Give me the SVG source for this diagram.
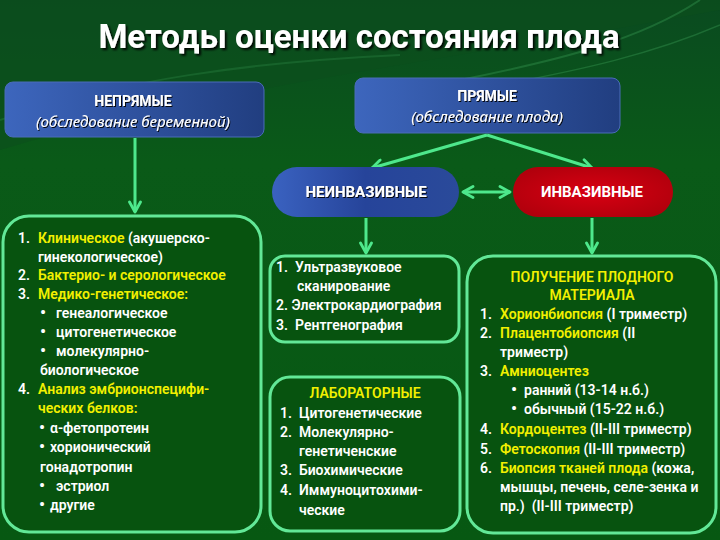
<svg xmlns="http://www.w3.org/2000/svg" width="720" height="540" viewBox="0 0 720 540">
<defs>
<linearGradient id="bg" x1="0" y1="0" x2="0" y2="1">
<stop offset="0" stop-color="#0a4a20"/>
<stop offset="0.3" stop-color="#0a5a18"/>
<stop offset="1" stop-color="#075812"/>
</linearGradient>
<linearGradient id="blue" x1="0" y1="0" x2="1" y2="0">
<stop offset="0" stop-color="#3d66bd"/>
<stop offset="1" stop-color="#213e80"/>
</linearGradient>
<linearGradient id="blue2" x1="0" y1="0" x2="1" y2="0">
<stop offset="0" stop-color="#3a62c0"/>
<stop offset="0.5" stop-color="#26449a"/>
<stop offset="1" stop-color="#2a4a9a"/>
</linearGradient>
<radialGradient id="red" cx="0.5" cy="0.5" r="0.6">
<stop offset="0" stop-color="#d80012"/>
<stop offset="1" stop-color="#b0000c"/>
</radialGradient>
<filter id="sh" x="-10%" y="-30%" width="120%" height="160%">
<feDropShadow dx="2" dy="2" stdDeviation="0.8" flood-color="#000" flood-opacity="0.9"/>
</filter>
<filter id="sh2" x="-10%" y="-30%" width="120%" height="160%">
<feDropShadow dx="1" dy="1" stdDeviation="0.5" flood-color="#000" flood-opacity="0.9"/>
</filter>
<marker id="ah" viewBox="0 0 14 14" refX="12" refY="7" markerWidth="14" markerHeight="14" markerUnits="userSpaceOnUse" orient="auto-start-reverse">
<polyline points="2,1.5 12,7 2,12.5" fill="none" stroke="#4ee88c" stroke-width="2.8" stroke-linecap="round" stroke-linejoin="round"/>
</marker>
<style>
.t{font-family:Roboto,"Noto Sans","Liberation Sans",sans-serif;font-size:14px;fill:#ffffff;font-weight:600;white-space:pre}
.y{fill:#f2f000}
.c{text-anchor:middle}
.b{font-size:17px}
.hd{font-family:Roboto,"Noto Sans","Liberation Sans",sans-serif;fill:#ffffff;font-weight:bold;text-anchor:middle}
.it{font-family:"Noto Sans",Roboto,"Liberation Sans",sans-serif;fill:#ffffff;font-style:italic;text-anchor:middle;font-size:15px}
.box{fill:#07530f;stroke:#62e897;stroke-width:3}
.con{stroke:#4ee88c;stroke-width:3;fill:none}
</style>
</defs>
<rect width="720" height="540" fill="url(#bg)"/>
<path d="M0,150 C200,90 450,60 720,10 L720,0 L0,0 Z" fill="#0b4f1c" opacity="0.6"/>
<path d="M700,0 C640,40 560,60 460,80" stroke="#2e8a48" stroke-width="2" fill="none" opacity="0.5"/>
<path d="M720,25 C650,55 580,70 500,85" stroke="#3a9a55" stroke-width="1.5" fill="none" opacity="0.4"/>
<path d="M0,120 C120,80 250,62 400,55" stroke="#2e8a48" stroke-width="2" fill="none" opacity="0.35"/>

<text x="359" y="48" class="hd" font-size="33" filter="url(#sh)">Методы оценки состояния плода</text>

<g id="connectors">
<line class="con" x1="135" y1="138" x2="135" y2="212" marker-end="url(#ah)"/>
<line class="con" x1="487" y1="135" x2="372" y2="168" marker-end="url(#ah)"/>
<line class="con" x1="487" y1="135" x2="592" y2="168" marker-end="url(#ah)"/>
<line class="con" x1="463" y1="192" x2="510" y2="192" marker-start="url(#ah)" marker-end="url(#ah)"/>
<line class="con" x1="366" y1="218" x2="366" y2="253" marker-end="url(#ah)"/>
<line class="con" x1="592" y1="218" x2="592" y2="253" marker-end="url(#ah)"/>
</g>

<g id="indirect">
<rect x="5" y="82" width="259" height="55" rx="8" fill="url(#blue)" stroke="#4a6cb8" stroke-width="1"/>
<text x="133" y="106" class="hd" font-size="14" filter="url(#sh2)">НЕПРЯМЫЕ</text>
<text x="133" y="127" class="it" filter="url(#sh2)">(обследование беременной)</text>
</g>

<g id="direct">
<rect x="355" y="78" width="265" height="55" rx="8" fill="url(#blue)" stroke="#4a6cb8" stroke-width="1"/>
<text x="487" y="101" class="hd" font-size="14" filter="url(#sh2)">ПРЯМЫЕ</text>
<text x="487" y="122" class="it" filter="url(#sh2)">(обследование плода)</text>
</g>

<g id="noninvasive">
<rect x="272" y="167" width="187" height="50" rx="25" fill="url(#blue2)"/>
<text x="366" y="197" class="hd" font-size="15" filter="url(#sh2)">НЕИНВАЗИВНЫЕ</text>
</g>

<g id="invasive">
<rect x="513" y="167" width="160" height="50" rx="25" fill="url(#red)"/>
<text x="592" y="197" class="hd" font-size="15" font-weight="600">ИНВАЗИВНЫЕ</text>
</g>

<g id="indirect-list">
<rect class="box" x="3" y="216" width="258" height="316" rx="26"/>
<text class="t" y="243"><tspan x="18">1.</tspan><tspan x="38" class="y">Клиническое</tspan> (акушерско-</text>
<text class="t" x="38" y="262">гинекологическое)</text>
<text class="t" y="280"><tspan x="18">2.</tspan><tspan x="38" class="y">Бактерио- и серологическое</tspan></text>
<text class="t" y="299"><tspan x="18">3.</tspan><tspan x="38" class="y">Медико-генетическое:</tspan></text>
<text class="t" y="318"><tspan x="40" class="b">•</tspan><tspan x="56">генеалогическое</tspan></text>
<text class="t" y="337"><tspan x="40" class="b">•</tspan><tspan x="56">цитогенетическое</tspan></text>
<text class="t" y="356"><tspan x="40" class="b">•</tspan><tspan x="56">молекулярно-</tspan></text>
<text class="t" x="40" y="375">биологическое</text>
<text class="t" y="394"><tspan x="18">4.</tspan><tspan x="38" class="y">Анализ эмбрионспецифи-</tspan></text>
<text class="t y" x="38" y="413">ческих белков:</text>
<text class="t" y="433"><tspan x="39" class="b">•</tspan><tspan x="50">α-фетопротеин</tspan></text>
<text class="t" y="452"><tspan x="39" class="b">•</tspan><tspan x="50">хорионический</tspan></text>
<text class="t" x="40" y="472">гонадотропин</text>
<text class="t" y="491"><tspan x="39" class="b">•</tspan><tspan x="56">эстриол</tspan></text>
<text class="t" y="510"><tspan x="39" class="b">•</tspan><tspan x="50">другие</tspan></text>
</g>

<g id="noninvasive-list">
<rect class="box" x="270" y="256" width="189" height="86" rx="15"/>
<text class="t" y="272"><tspan x="276">1.</tspan><tspan x="295">Ультразвуковое</tspan></text>
<text class="t" x="297" y="291">сканирование</text>
<text class="t" x="276" y="310">2. Электрокардиография</text>
<text class="t" y="330"><tspan x="276">3.</tspan><tspan x="295">Рентгенография</tspan></text>
</g>

<g id="lab-list">
<rect class="box" x="270" y="377" width="190" height="154" rx="20"/>
<text class="t y c" x="365" y="398">ЛАБОРАТОРНЫЕ</text>
<text class="t" y="418"><tspan x="280">1.</tspan><tspan x="299">Цитогенетические</tspan></text>
<text class="t" y="437"><tspan x="280">2.</tspan><tspan x="299">Молекулярно-</tspan></text>
<text class="t" x="299" y="456">генетиченские</text>
<text class="t" y="475"><tspan x="280">3.</tspan><tspan x="299">Биохимические</tspan></text>
<text class="t" y="495"><tspan x="280">4.</tspan><tspan x="299">Иммуноцитохими-</tspan></text>
<text class="t" x="299" y="515">ческие</text>
</g>

<g id="invasive-list">
<rect class="box" x="467" y="256" width="249" height="277" rx="26"/>
<text class="t y c" x="592" y="282">ПОЛУЧЕНИЕ ПЛОДНОГО</text>
<text class="t y c" x="592" y="300">МАТЕРИАЛА</text>
<text class="t" y="319"><tspan x="480">1.</tspan><tspan x="500" class="y">Хорионбиопсия</tspan> (I триместр)</text>
<text class="t" y="338"><tspan x="480">2.</tspan><tspan x="500" class="y">Плацентобиопсия</tspan> (II</text>
<text class="t" x="500" y="357">триместр)</text>
<text class="t" y="376"><tspan x="480">3.</tspan><tspan x="500" class="y">Амниоцентез</tspan></text>
<text class="t" y="395"><tspan x="511" class="b">•</tspan><tspan x="524">ранний (13-14 н.б.)</tspan></text>
<text class="t" y="414"><tspan x="511" class="b">•</tspan><tspan x="524">обычный (15-22 н.б.)</tspan></text>
<text class="t" y="434"><tspan x="480">4.</tspan><tspan x="500" class="y">Кордоцентез</tspan> (II-III триместр)</text>
<text class="t" y="454"><tspan x="480">5.</tspan><tspan x="500" class="y">Фетоскопия</tspan> (II-III триместр)</text>
<text class="t" y="473"><tspan x="480">6.</tspan><tspan x="500" class="y">Биопсия тканей плода</tspan> (кожа,</text>
<text class="t" x="500" y="492">мышцы, печень, селе-зенка и</text>
<text class="t" x="500" y="511">пр.)  (II-III триместр)</text>
</g>
</svg>
